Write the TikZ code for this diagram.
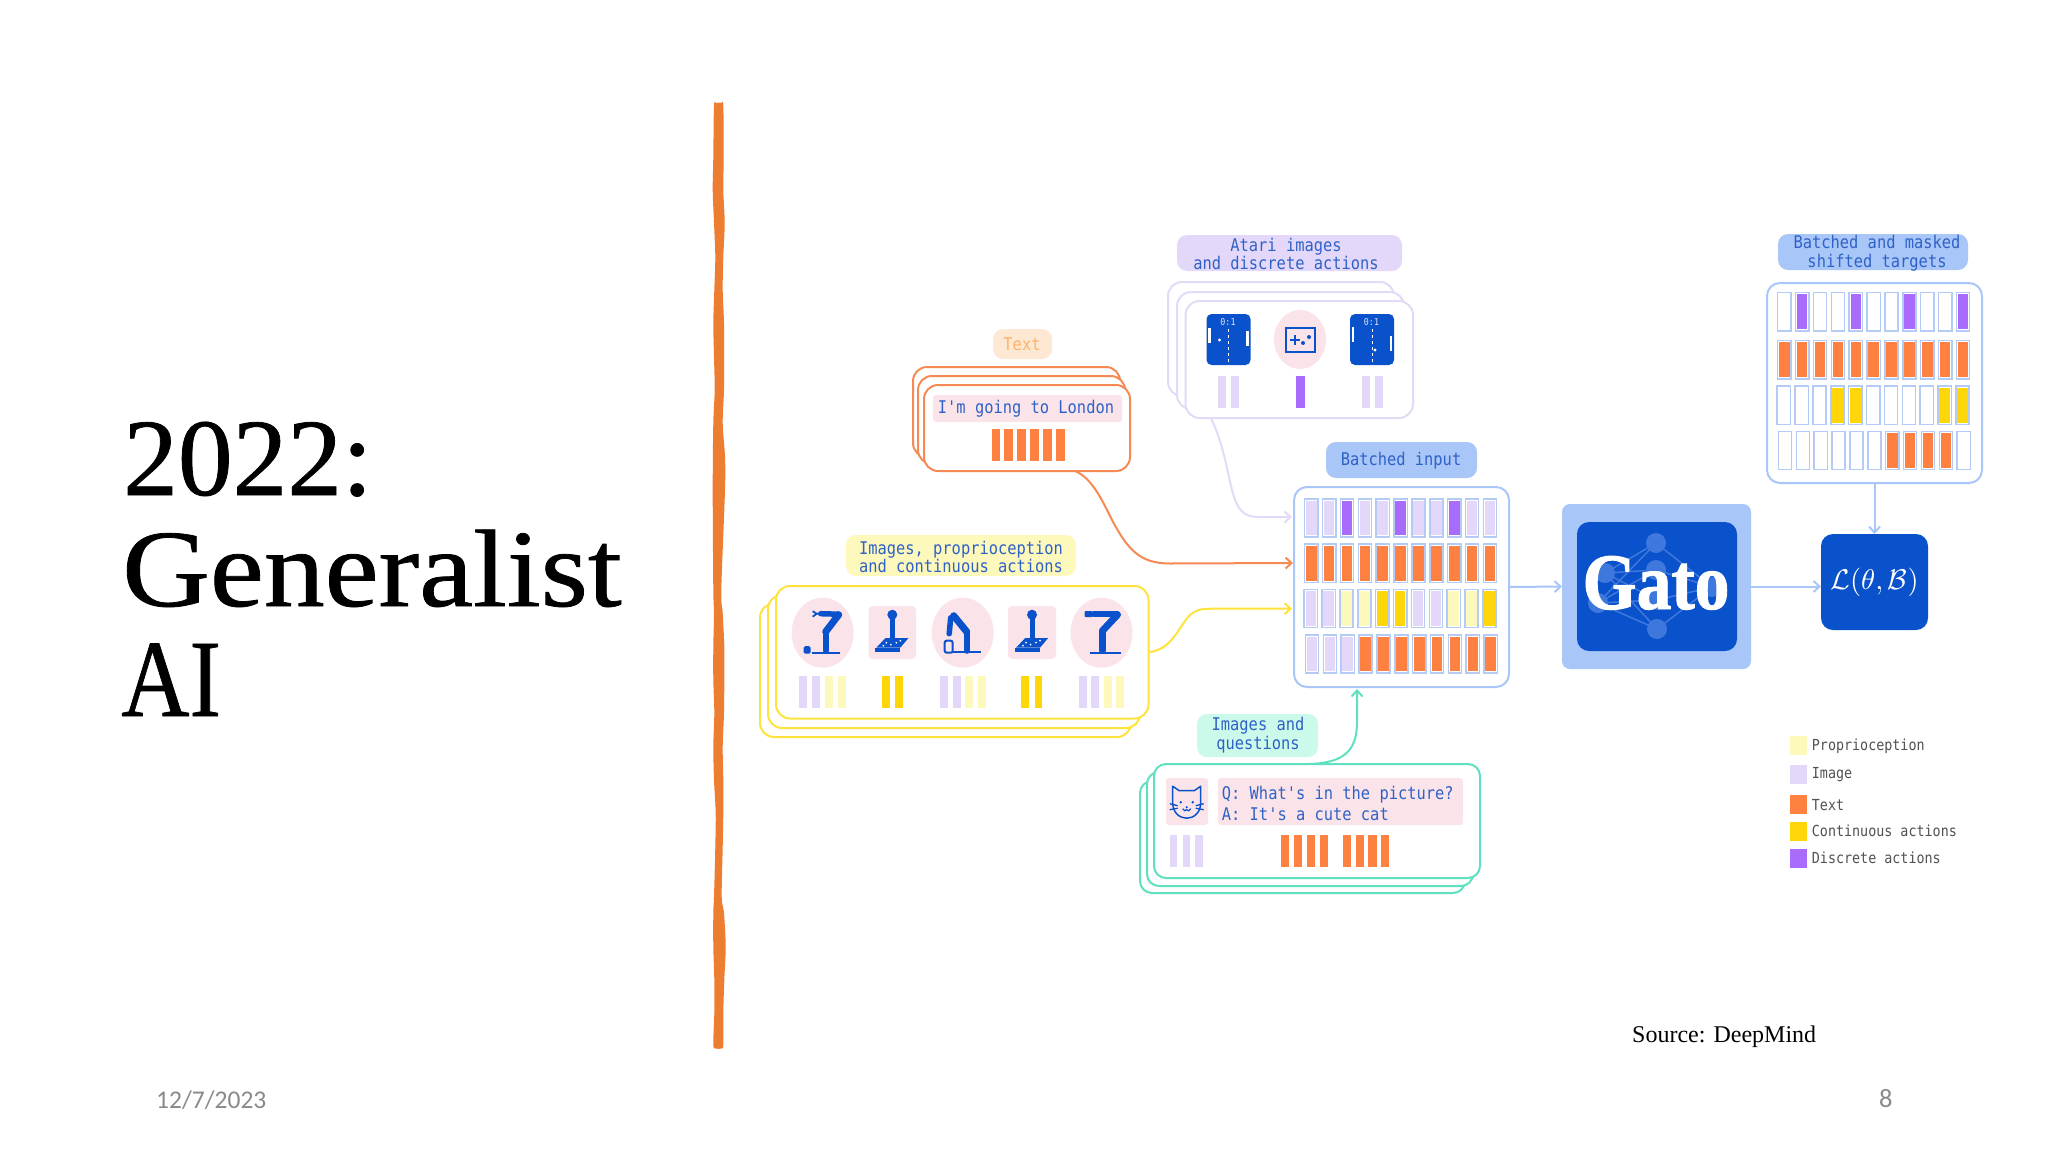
\documentclass[tikz,border=0pt]{standalone}
\usepackage{fontspec}
\usepackage{graphicx}
\usetikzlibrary{arrows.meta,shapes.geometric}
\setmainfont{Liberation Serif}
\newfontfamily\monof[FakeStretch=.88]{DejaVu Sans Mono}
\newfontfamily\carl{Carlito}
\newfontfamily\titlef[FakeBold=.7]{Liberation Serif}
\newfontfamily\gatof[FakeBold=1.2]{Liberation Serif Bold}
\definecolor{cL}{HTML}{E3D8FA}
\definecolor{cP}{HTML}{A96BFB}
\definecolor{cO}{HTML}{FF8142}
\definecolor{cY}{HTML}{FDF8BC}
\definecolor{cG}{HTML}{FFD60A}
\definecolor{cW}{HTML}{FFFFFF}
\definecolor{deep}{HTML}{0A52CC}
\definecolor{net}{HTML}{3F78DD}
\definecolor{lblue}{HTML}{A9C6F9}
\definecolor{cellline}{HTML}{B4CCF5}
\definecolor{pinkbg}{HTML}{FBE4E9}
\definecolor{txtblue}{HTML}{2F62C6}
\definecolor{lorange}{HTML}{F58A55}
\definecolor{lyellow}{HTML}{FFE33C}
\definecolor{llav}{HTML}{E3DAF8}
\definecolor{lteal}{HTML}{5FE0C0}
\definecolor{bgorange}{HTML}{FDE9D3}
\definecolor{bgteal}{HTML}{CBF9EA}
\definecolor{rulecol}{HTML}{ED7D31}
\tikzset{
  panel/.style={draw=#1,line width=2pt,fill=white,rounded corners=14pt},
  tag/.style={fill=#1,rounded corners=10pt},
  mono/.style={font=\monof\fontsize{17.5}{18.5}\selectfont,text=txtblue,align=center,inner sep=0pt},
  legendtxt/.style={font=\monof\fontsize{15.2}{16}\selectfont,text=black!68,anchor=west,inner sep=0pt},
  link/.style={line width=2pt,draw=#1,-{Straight Barb[length=6pt,width=11pt]}},
  robotline/.style={draw=deep,line cap=round}
}
\newcommand\rnode[7]{%
 \pgfmathsetmacro\cxx{(#3+#5)/2}\pgfmathsetmacro\cyy{(#4+#6)/2}%
 \pgfmathsetmacro\ww{#5-#3}\pgfmathsetmacro\hh{#6-#4}%
 \node[#2,minimum width=\ww pt,minimum height=\hh pt,inner sep=0pt,outer sep=0pt] (#1) at (\cxx,\cyy) {#7};}
\newcommand\cellrow[3]{%
 \foreach \c [count=\i from 0] in {#3}{%
  \pgfmathsetmacro\xx{#1+17.87*\i}%
  \draw[cellline,line width=1.5pt,fill=white] ({\xx-6.6},{#2-19.2}) rectangle ({\xx+6.6},{#2+19.2});
  \fill[c\c] ({\xx-5.3},{#2-17.4}) rectangle ({\xx+5.3},{#2+17.4});
 }}
\newcommand\barr[5]{\fill[#5] (#1,#3) rectangle (#2,#4);}
\newcommand\robotA[2]{\begin{scope}[shift={(#1,#2)}]
 \draw[deep,line width=1.6pt] (-11,20)--(17,20);
 \draw[robotline,line width=6.2pt] (3,-1)--(3,18);
 \draw[robotline,line width=7pt] (3,-1)--(16,-18);
 \draw[robotline,line width=5.5pt] (-2,-19)--(16,-18.5);
 \draw[deep,line width=1.8pt] (-2,-19) -- (-6,-19) (-6,-19) -- (-10,-21.5) (-6,-19) -- (-10,-16);
 \fill[deep,rounded corners=1.5pt] (-19,13.5) rectangle (-12,21);
\end{scope}}
\newcommand\robotC[2]{\begin{scope}[shift={(#1,#2)}]
 \draw[deep,line width=1.6pt] (-12,20.5)--(19,20.5);
 \draw[robotline,line width=6.2pt] (1,-2)--(1,18);
 \draw[robotline,line width=7pt] (1,-2)--(16,-18);
 \draw[robotline,line width=5.5pt] (-8,-18.5)--(16,-18.5);
 \fill[deep,rounded corners=1pt] (-17,-21.5) rectangle (-9,-15.5);
\end{scope}}
\newcommand\robotB[2]{\begin{scope}[shift={(#1,#2)}]
 \draw[deep,line width=1.6pt] (-9.5,19.5)--(18,19.5);
 \draw[robotline,line width=6.2pt] (4,-1)--(4,18);
 \draw[robotline,line width=7pt] (4,-1)--(-9,-17);
 \draw[robotline,line width=5.5pt] (-12,-15)--(-13.5,1);
 \draw[deep,line width=2pt,fill=pinkbg,rounded corners=2pt] (-18,8) rectangle (-10,20);
\end{scope}}
\newcommand\joy[2]{\begin{scope}[shift={(#1,#2)}]
 \fill[deep] (0,-18) circle (5);
 \draw[deep,line width=5pt] (0,-15)--(0,7);
 \fill[deep] (-7,5.5)--(16,5.5)--(8,15)--(-16,15)--cycle;
 \fill[deep] (-17,15.5) rectangle (7.5,18.8);
 \fill[white] (-6,10) circle (1) (-1.5,12) circle (1) (4,10) circle (1) (8,8) circle (1) (-9,13) circle (1);
\end{scope}}
\newcommand\screen[6]{\begin{scope}[shift={(#1,314)}]
 \fill[deep,rounded corners=5pt] (0,0) rectangle (44,51);
 \foreach \yy in {15,21,...,46}{\fill[white] (21.5,\yy) rectangle (22.5,{\yy+2.5});}
 \fill[white] (1.5,#2) rectangle (4,{#2+15});
 \fill[white] (39.5,#3) rectangle (42,{#3+15});
 \fill[white] (#4,#5) circle (1.7);
 \node[text=white!85!deep,font=\monof\fontsize{9.5}{9.5}\selectfont,inner sep=0pt] (#6) at (21.5,8) {0:1};
\end{scope}}
\begin{document}
\begin{tikzpicture}[x=1pt,y=-1pt]
\useasboundingbox (0,0) rectangle (2048,1152);
\fill[white] (0,0) rectangle (2048,1152);
% hand-drawn rule
\fill[rulecol] plot[smooth cycle,tension=.5] coordinates {
 (714,106)(713.3,157)(712.7,190)(714,223)(715.3,257)(714.3,290)(713.3,323)(714,357)(714.7,390)(713.3,423)(712.7,490)(713.3,590)(714,613)(713.3,647)(713.3,680)(714.3,713)(713.3,747)(714,780)(715.7,813)(715.3,847)(714,897)(713.3,913)(713.3,947)(714.3,980)(714.3,1013)(713.3,1045)(716,1048.5)(721,1048.5)(723.3,1045)(723.3,1013)(724.3,980)(725.7,947)(724,913)(721.7,897)(722.7,847)(723.3,813)(723.3,780)(722.7,747)(724,713)(724.3,680)(724.3,647)(722.7,613)(721.3,590)(725,490)(725,457)(722.7,423)(724,390)(724,357)(724,323)(722.7,290)(723.3,257)(724.7,223)(723.3,190)(723.7,157)(723.3,106)(721,103)(716,103)};
% title
\node[anchor=base west,inner sep=0pt,font=\titlef\fontsize{110}{110}\selectfont] (title1) at (123,495) {\scalebox{.995}[1]{2022:}};
\node[anchor=base west,inner sep=0pt,font=\titlef\fontsize{110}{110}\selectfont] (title2) at (122,606) {\scalebox{1.105}[1]{Generalist}};
\node[anchor=base west,inner sep=0pt,font=\titlef\fontsize{110}{110}\selectfont] (title3) at (121,716) {\scalebox{.86}[1]{AI}};
\node[anchor=base west,inner sep=0pt,font=\carl\fontsize{25.5}{26}\selectfont,text=black!46] (date) at (156,1108) {12/7/2023};
\node[anchor=base west,inner sep=0pt,font=\carl\fontsize{26.5}{27}\selectfont,text=black!46] (pagenum) at (1879,1107) {8};
\node[anchor=base west,inner sep=0pt,font=\fontsize{24}{24}\selectfont] (source) at (1632,1042) {Source: DeepMind};
% batch
\rnode{batch}{panel=lblue,rounded corners=13pt}{1294}{487}{1509}{687}{}
\cellrow{1311.3}{518}{L,L,P,L,L,P,L,L,P,L,L}
\cellrow{1311.3}{563.3}{O,O,O,O,O,O,O,O,O,O,O}
\cellrow{1310.8}{608.5}{L,L,Y,Y,G,G,L,L,Y,Y,G}
\cellrow{1312}{654}{L,L,L,O,O,O,O,O,O,O,O}
\rnode{batchtag}{tag=lblue}{1326}{442}{1477}{478}{}
\node[mono] (batchtxt) at (1401,461) {Batched input};
% targets
\rnode{targets}{panel=lblue,rounded corners=13pt}{1767}{283}{1982}{483}{}
\cellrow{1784.3}{311.8}{W,P,W,W,P,W,W,P,W,W,P}
\cellrow{1784.3}{359.8}{O,O,O,O,O,O,O,O,O,O,O}
\cellrow{1783.8}{405.2}{W,W,W,G,G,W,W,W,W,G,G}
\cellrow{1785}{450.5}{W,W,W,W,W,W,O,O,O,O,W}
\rnode{targettag}{tag=lblue}{1778}{234}{1968}{270}{}
\node[mono] (targettxt) at (1877,253) {Batched and masked\\shifted targets};
% Gato
\rnode{gatoouter}{fill=lblue,rounded corners=8pt}{1562}{504}{1751}{669}{}
\rnode{gatoinner}{fill=deep,rounded corners=12pt}{1577}{522}{1737}{651}{}
\foreach \a/\b/\c/\d in {1605/573/1656/543,1605/573/1656/570,1605/573/1657/600,1605/573/1657/629,1598/603/1656/543,1598/603/1656/570,1598/603/1657/600,1598/603/1657/629,1656/543/1712/587,1656/570/1712/587,1657/600/1712/587,1657/629/1712/587}{\draw[net,line width=1.5pt] (\a,\b)--(\c,\d);}
\foreach \a/\b in {1605/573,1598/603,1656/543,1656/570,1657/600,1657/629,1712/587}{\fill[net] (\a,\b) circle (10);}
\node[anchor=base,inner sep=0pt,text=white,font=\gatof\fontsize{80}{80}\selectfont] (gatotxt) at (1656,609) {\scalebox{.87}[1]{Gato}};
\rnode{loss}{fill=deep,rounded corners=12pt,text=white}{1821}{534}{1928}{630}{\scalebox{2.85}{$\mathcal{L}(\theta,\mathcal{B})$}}
% blue arrows
\draw[link=lblue] (batch.east) -- (gatoouter.west);
\draw[link=lblue] (gatoouter.east) -- (gatoouter.east -| loss.west);
\draw[link=lblue] (targets.south) -- (loss.north);
% Text stack
\rnode{textback}{panel=lorange}{913}{367}{1120}{457}{}
\rnode{textmid}{panel=lorange}{918}{376}{1125}{464}{}
\rnode{textfront}{panel=lorange}{924}{385}{1130}{471}{}
\rnode{textpink}{fill=pinkbg,rounded corners=3pt}{933}{395}{1122}{422}{}
\node[mono] (texttxt) at (1026,409) {I'm going to London};
\foreach \i in {0,...,5}{\pgfmathsetmacro\xa{991.5+12.85*\i}\barr{\xa}{\xa+8.9}{429}{461}{cO}}
\rnode{texttag}{tag=bgorange}{993}{329}{1052}{359}{}
\node[mono,text=orange!60!white] (texttagtxt) at (1022,344) {Text};
\coordinate (textout) at (1075,471);
\coordinate (batchB) at (1293,563);
\draw[link=lorange] (textout) .. controls (1092,478) and (1102,500) .. (1112,520) .. controls (1128,550) and (1140,563.5) .. (1170,563.5) -- (batchB);
% Atari stack
\rnode{ataback}{panel=llav}{1168}{282}{1394}{396}{}
\rnode{atamid}{panel=llav}{1177}{292}{1404}{409}{}
\rnode{atafront}{panel=llav}{1185.5}{301}{1413}{418}{}
\rnode{atatag}{tag=cL}{1177}{235}{1402}{271}{}
\node[mono] (atatxt) at (1286,254) {Atari images\\and discrete actions};
\screen{1206.5}{14}{17}{13}{26}{score1}
\screen{1350}{13}{22}{25}{36}{score2}
\node[fill=pinkbg,ellipse,minimum width=52pt,minimum height=59pt,inner sep=0pt] (padbg) at (1300,339.5) {};
\draw[deep,line width=1.4pt] (1286,328) rectangle (1315,352);
\draw[deep,line width=2pt] (1289.5,340)--(1299.5,340) (1294.5,335)--(1294.5,345);
\fill[deep] (1303,343) circle (2) (1309,337) circle (2);
\barr{1218}{1226}{376}{408}{cL}\barr{1231}{1239}{376}{408}{cL}
\barr{1296}{1305}{376}{408}{cP}
\barr{1362}{1370}{376}{408}{cL}\barr{1375}{1383}{376}{408}{cL}
\coordinate (ataout) at (1211,418.5);
\coordinate (batchA) at (1292,517);
\draw[link=llav] (ataout) .. controls (1222,440) and (1226,465) .. (1232,490) .. controls (1237,510) and (1244,517) .. (1258,517) -- (batchA);
% Images stack
\rnode{imgback}{panel=lyellow}{760}{603.5}{1131}{737}{}
\rnode{imgmid}{panel=lyellow}{768}{595}{1140}{728}{}
\rnode{imgfront}{panel=lyellow}{776}{586}{1148.5}{718.5}{}
\rnode{imgtag}{tag=cY}{846}{535}{1076}{576}{}
\node[mono] (imgtxt) at (961,557) {Images, proprioception\\and continuous actions};
\node[fill=pinkbg,ellipse,minimum width=62pt,minimum height=70pt,inner sep=0pt] (ic1) at (822.7,632.7) {};
\rnode{ic2}{fill=pinkbg,rounded corners=4pt}{868.5}{606}{916}{659}{}
\node[fill=pinkbg,ellipse,minimum width=62pt,minimum height=70pt,inner sep=0pt] (ic3) at (962.7,632.7) {};
\rnode{ic4}{fill=pinkbg,rounded corners=4pt}{1008}{606}{1056}{659}{}
\node[fill=pinkbg,ellipse,minimum width=62pt,minimum height=70pt,inner sep=0pt] (ic5) at (1101.5,632.7) {};
\robotA{822.7}{632.7}
\joy{892.3}{632.7}
\robotB{962.7}{632.7}
\joy{1032}{632.7}
\robotC{1101.5}{632.7}
\barr{799}{807}{676}{708}{cL}\barr{812}{820}{676}{708}{cL}\barr{825}{832.5}{676}{708}{cY}\barr{838}{846}{676}{708}{cY}
\barr{882}{890}{676}{708}{cG}\barr{895}{903}{676}{708}{cG}
\barr{939.5}{947.5}{676}{708}{cL}\barr{952.5}{960.5}{676}{708}{cL}\barr{965}{973}{676}{708}{cY}\barr{978}{986}{676}{708}{cY}
\barr{1021}{1029}{676}{708}{cG}\barr{1034.5}{1042}{676}{708}{cG}
\barr{1079}{1087}{676}{708}{cL}\barr{1091}{1099}{676}{708}{cL}\barr{1104}{1111.5}{676}{708}{cY}\barr{1116}{1124}{676}{708}{cY}
\coordinate (imgout) at (1149.5,652);
\coordinate (batchC) at (1292,608.7);
\draw[link=lyellow] (imgout) .. controls (1168,650) and (1176,634) .. (1185,621) .. controls (1192,611) and (1198,608.7) .. (1212,608.7) -- (batchC);
% Question stack
\rnode{qback}{panel=lteal,rounded corners=12pt}{1140}{781}{1465}{893}{}
\rnode{qmid}{panel=lteal,rounded corners=12pt}{1147}{772}{1473}{886}{}
\rnode{qfront}{panel=lteal,rounded corners=12pt}{1154}{764}{1480}{878}{}
\rnode{qtag}{tag=bgteal}{1197}{714}{1318}{757}{}
\node[mono] (qtagtxt) at (1258,735) {Images and\\questions};
\rnode{catbg}{fill=pinkbg,rounded corners=3pt}{1166}{778}{1208}{825}{}
\rnode{qpink}{fill=pinkbg,rounded corners=3pt}{1218}{778}{1463}{825}{}
\node[mono,align=left,anchor=west] (qtxt) at (1221.7,803.5) {Q: What's in the picture?\\[2.8pt]A: It's a cute cat};
\begin{scope}[shift={(1186.7,801.7)}]
 \draw[deep,line width=1.5pt,line join=round] (-14,-15.5)--(-7.5,-11)--(7.5,-11)--(14,-15.5)--(14,1) .. controls (14,11) and (7,16.5) .. (0,16.5) .. controls (-7,16.5) and (-14,11) .. (-14,1) -- cycle;
 \draw[deep,line width=1.3pt] (-17,2)--(-9,4) (-17,8)--(-9,6.5) (17,2)--(9,4) (17,8)--(9,6.5);
 \draw[deep,line width=1.3pt] (-4,7) .. controls (-3,9.5) and (-1,9.5) .. (0,8) .. controls (1,9.5) and (3,9.5) .. (4,7);
 \fill[deep] (-6,0.5) circle (1.4) (6,0.5) circle (1.4) (0,5.5) circle (1.2);
\end{scope}
\barr{1170}{1177}{835}{867}{cL}\barr{1183}{1190}{835}{867}{cL}\barr{1195}{1203}{835}{867}{cL}
\barr{1281}{1289}{835}{867}{cO}\barr{1294}{1302}{835}{867}{cO}\barr{1307}{1315}{835}{867}{cO}\barr{1320}{1328}{835}{867}{cO}
\barr{1343}{1351}{835}{867}{cO}\barr{1355.5}{1364}{835}{867}{cO}\barr{1368}{1377}{835}{867}{cO}\barr{1381}{1389}{835}{867}{cO}
\coordinate (qout) at (1305,764);
\coordinate (batchD) at (1357,689);
\draw[link=lteal] (qout) .. controls (1345,764) and (1357,750) .. (1357,722) -- (batchD);
% legend
\rnode{lg1}{fill=cY}{1790}{736}{1806.7}{755}{}
\rnode{lg2}{fill=cL}{1790}{765}{1806.7}{784}{}
\rnode{lg3}{fill=cO}{1790}{794.7}{1806.7}{813.7}{}
\rnode{lg4}{fill=cG}{1790}{821.7}{1806.7}{840.7}{}
\rnode{lg5}{fill=cP}{1790}{848.7}{1806.7}{867.7}{}
\node[legendtxt] (lt1) at (1811.7,746) {Proprioception};
\node[legendtxt] (lt2) at (1811.7,775) {Image};
\node[legendtxt] (lt3) at (1811.7,805) {Text};
\node[legendtxt] (lt4) at (1811.7,831) {Continuous actions};
\node[legendtxt] (lt5) at (1811.7,858) {Discrete actions};
\end{tikzpicture}
\end{document}
